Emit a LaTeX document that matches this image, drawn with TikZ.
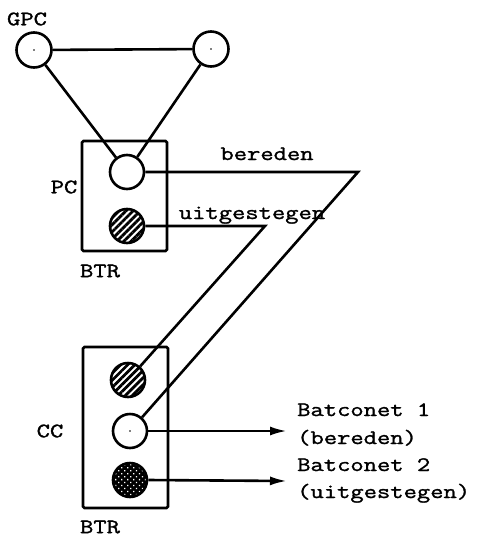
\documentclass[tikz,border=0pt]{standalone}
\usepackage{fontspec}
\setmonofont[FakeStretch=1.26,FakeBold=1.4]{Latin Modern Mono}
\usetikzlibrary{arrows.meta,patterns.meta}
\begin{document}
\begin{tikzpicture}[x=1pt,y=-1pt,
  lw/.style={line width=2.6pt},
  circ/.style={circle,draw,lw,minimum size=34pt,inner sep=0pt,fill=white},
  hatch/.style={circ,pattern={Lines[angle=45,distance=5pt,line width=2.8pt]},pattern color=black},
  dotted fill/.style={circ,preaction={fill=black},pattern={Dots[angle=45,distance=4.2pt,radius=0.9pt]},pattern color=white},
  box/.style={draw,lw,rounded corners=1.5pt,inner sep=0pt},
  lbl/.style={font=\ttfamily\fontsize{20.5}{27}\selectfont,inner sep=0pt},
  conn/.style={lw},
  arr/.style={lw,-{Latex[length=17pt,width=9pt]}}]
\useasboundingbox (0,0) rectangle (482,542);
% boxes
\node[box,minimum width=85pt,minimum height=110pt] (pcbox) at (124.5,196) {};
\node[box,minimum width=85pt,minimum height=161pt] (ccbox) at (125.5,427.5) {};
% circles
\node[circ,minimum size=35pt] (g1) at (34,50) {};
\node[circ,minimum size=35pt] (g2) at (211,49) {};
\node[circ] (pc1) at (127,172) {};
\node[hatch] (pc2) at (127,226) {};
\node[hatch] (cc1) at (128,380) {};
\node[circ] (cc2) at (130,431) {};
\node[dotted fill] (cc3) at (130,480) {};
% center dots
\fill (g1.center) circle (0.8pt);
\fill (g2.center) circle (0.8pt);
\fill (cc2.center) circle (0.8pt);
% corner coordinates
\coordinate (k1) at (358,172);
\coordinate (k2) at (265,226);
\coordinate (a1) at (287,431);
\coordinate (a2) at (287,481);
% connectors
\draw[conn] (g1) -- (g2);
\draw[conn] (g1) -- (pc1);
\draw[conn] (g2) -- (pc1);
\draw[conn] (pc1.east) -- (k1) -- (cc2);
\draw[conn] (pc2.east) -- (k2) -- (cc1);
\draw[arr] (cc2.east) -- (a1);
\draw[arr] (cc3.east) -- (a2);
% labels
\node[lbl] (tgpc) at (27,19) {GPC};
\node[lbl] (tpc) at (64,187) {PC};
\node[lbl] (tbtr1) at (100,271) {BTR};
\node[lbl,anchor=base] (tber) at (267,160) {bereden};
\node[lbl,anchor=base] (tuit) at (252,219) {uitgestegen};
\node[lbl] (tcc) at (50,431) {CC};
\node[lbl] (tbtr2) at (100,527) {BTR};
\node[lbl,anchor=base west] (b1) at (297,416) {Batconet 1};
\node[lbl,anchor=base west] (b1b) at (297,444) {(bereden)};
\node[lbl,anchor=base west] (b2) at (297,471) {Batconet 2};
\node[lbl,anchor=base west] (b2b) at (297,498) {(uitgestegen)};
\end{tikzpicture}
\end{document}
